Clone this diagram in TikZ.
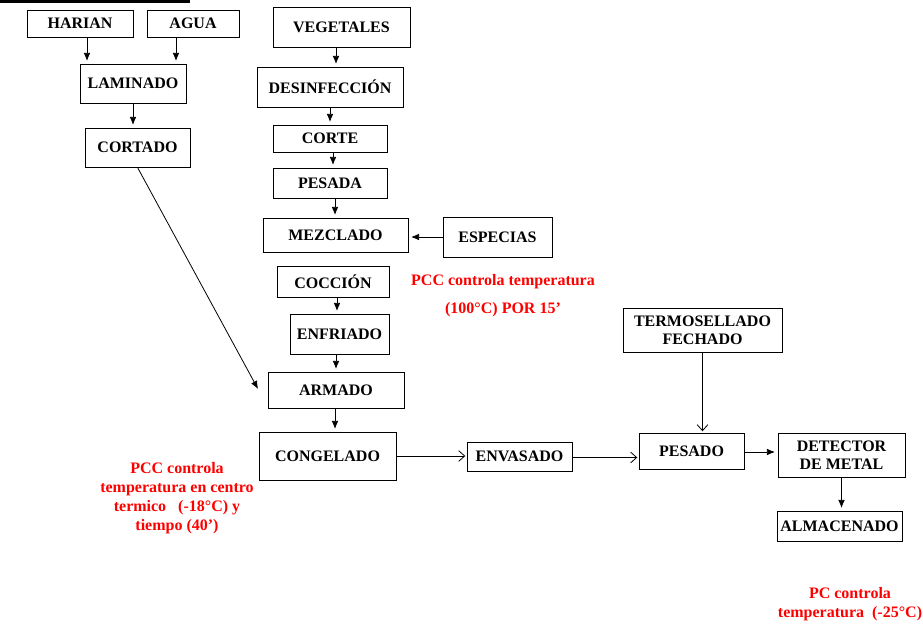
\documentclass[tikz,border=0pt]{standalone}
\usepackage{fontspec}
\setmainfont{Liberation Serif}
\usetikzlibrary{arrows.meta}
\tikzset{
  bx/.style={draw=black,line width=0.6pt,inner sep=0pt,align=center,
     font=\fontsize{12}{13.5}\selectfont\bfseries},
  note/.style={text=red,align=center,inner sep=0pt,
     font=\fontsize{12}{14.25}\selectfont\bfseries},
  arr/.style={line width=0.6pt,-{Latex[length=6pt,width=5pt]},shorten >=2pt},
  oarr/.style={line width=0.6pt,-{Straight Barb[length=4.5pt,width=8pt]},shorten >=1pt}}
\begin{document}
\begin{tikzpicture}[x=0.75pt,y=-0.75pt]
\useasboundingbox (0,0) rectangle (923,624);
\fill[black] (0,0) rectangle (190,3);
% boxes
\node[bx,minimum width=106*0.75pt,minimum height=27*0.75pt] (harian) at (80,23.5) {HARIAN};
\node[bx,minimum width=92*0.75pt,minimum height=27*0.75pt] (agua) at (193,23.5) {AGUA};
\node[bx,minimum width=106*0.75pt,minimum height=39*0.75pt] (laminado) at (133,83.5) {LAMINADO};
\node[bx,minimum width=105*0.75pt,minimum height=39*0.75pt] (cortado) at (137.5,147.5) {CORTADO};
\node[bx,minimum width=137*0.75pt,minimum height=40*0.75pt] (vegetales) at (341.5,27) {VEGETALES};
\node[bx,minimum width=146*0.75pt,minimum height=40*0.75pt] (desinf) at (330,87) {DESINFECCIÓN};
\node[bx,minimum width=114*0.75pt,minimum height=27*0.75pt] (corte) at (330,138.5) {CORTE};
\node[bx,minimum width=114*0.75pt,minimum height=30*0.75pt] (pesada) at (330,183) {PESADA};
\node[bx,minimum width=145*0.75pt,minimum height=34*0.75pt] (mezclado) at (335.5,235) {MEZCLADO};
\node[bx,minimum width=109*0.75pt,minimum height=40*0.75pt] (especias) at (497.5,237) {ESPECIAS};
\node[bx,minimum width=112*0.75pt,minimum height=31*0.75pt] (coccion) at (333,281.5) {COCCIÓN};
\node[bx,minimum width=99*0.75pt,minimum height=40*0.75pt] (enfriado) at (339.5,334) {ENFRIADO};
\node[bx,minimum width=136*0.75pt,minimum height=36*0.75pt] (armado) at (336,390) {ARMADO};
\node[bx,minimum width=137*0.75pt,minimum height=48*0.75pt] (congelado) at (327.5,456) {CONGELADO};
\node[bx,minimum width=105*0.75pt,minimum height=29*0.75pt] (envasado) at (519.5,456.5) {ENVASADO};
\node[bx,minimum width=105*0.75pt,minimum height=36*0.75pt] (pesado) at (691.5,451) {PESADO};
\node[bx,minimum width=159*0.75pt,minimum height=44*0.75pt] (termo) at (702.5,330) {TERMOSELLADO\\FECHADO};
\node[bx,minimum width=127*0.75pt,minimum height=44*0.75pt] (detector) at (841.5,455) {DETECTOR\\DE METAL};
\node[bx,minimum width=125*0.75pt,minimum height=30*0.75pt] (almacenado) at (839.5,526) {ALMACENADO};
% notes
\node[note] (pcc1) at (503,295.5) {PCC controla temperatura\\[6.5pt](100°C) POR 15’};
\node[note] (pcc2) at (177,498.5) {PCC controla\\temperatura en centro\\termico\ \ \ (-18°C) y\\tiempo (40’)};
\node[note] (pc3) at (850,604) {PC controla\\temperatura\ \ (-25°C)};
% connectors
\draw[arr] ([xshift=7*0.75pt]harian.south) -- ([xshift=7*0.75pt]harian.south |- laminado.north);
\draw[arr] ([xshift=-17*0.75pt]agua.south) -- ([xshift=-17*0.75pt]agua.south |- laminado.north);
\draw[arr] (laminado.south) -- (laminado.south |- cortado.north);
\coordinate (diagend) at (258,389);
\draw[arr,shorten >=0pt] (cortado.south) -- (diagend);
\draw[arr] ([xshift=-5.5*0.75pt]vegetales.south) -- ([xshift=-5.5*0.75pt]vegetales.south |- desinf.north);
\draw[arr] (desinf.south) -- (desinf.south |- corte.north);
\draw[arr] ([xshift=3*0.75pt]corte.south) -- ([xshift=3*0.75pt]corte.south |- pesada.north);
\draw[arr] ([xshift=5*0.75pt]pesada.south) -- ([xshift=5*0.75pt]pesada.south |- mezclado.north);
\draw[arr] (especias.west) -- (especias.west -| mezclado.east);
\draw[arr] ([xshift=4*0.75pt]coccion.south) -- ([xshift=4*0.75pt]coccion.south |- enfriado.north);
\draw[arr] ([xshift=-3.5*0.75pt]enfriado.south) -- ([xshift=-3.5*0.75pt]enfriado.south |- armado.north);
\draw[arr] ([xshift=-1*0.75pt]armado.south) -- ([xshift=-1*0.75pt]armado.south |- congelado.north);
\draw[oarr] (congelado.east) -- (congelado.east -| envasado.west);
\draw[oarr] ([yshift=-1*0.75pt]envasado.east) -- ([yshift=-1*0.75pt]envasado.east -| pesado.west);
\draw[oarr] (termo.south) -- (termo.south |- pesado.north);
\draw[arr] ([yshift=-1*0.75pt]pesado.east) -- ([yshift=-1*0.75pt]pesado.east -| detector.west);
\draw[arr] (detector.south) -- (detector.south |- almacenado.north);
\end{tikzpicture}
\end{document}
